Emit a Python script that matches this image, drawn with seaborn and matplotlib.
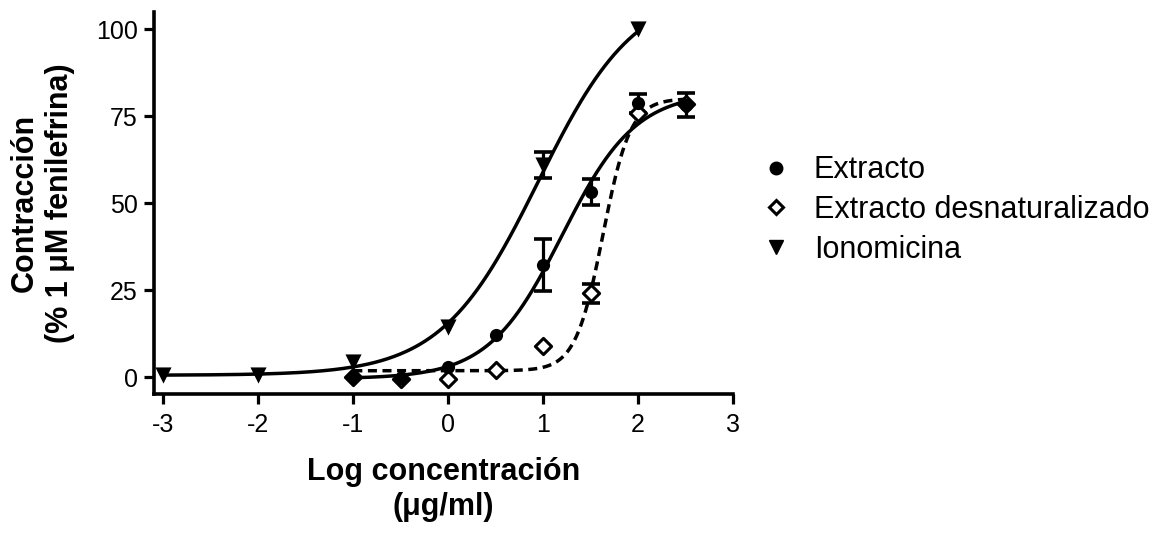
import numpy as np
import pandas as pd
import matplotlib
matplotlib.use("Agg")
import matplotlib.pyplot as plt
from matplotlib.lines import Line2D
import seaborn as sns

# Measured responses (mean and error) at each log concentration
log_conc_extracto = [-1.0, -0.5, 0.0, 0.5, 1.0, 1.5, 2.0, 2.5]
extracto = [0.0, -0.3, 2.9, 12.0, 32.2, 53.2, 78.6, 78.1]
extracto_err = [0.0, 0.0, 0.0, 0.0, 7.4, 3.8, 2.8, 3.4]

log_conc_desnat = [-1.0, -0.5, 0.0, 0.5, 1.0, 1.5, 2.0, 2.5]
desnat = [0.0, -0.5, -0.5, 1.9, 8.8, 24.0, 75.9, 78.5]
desnat_err = [0.0, 0.0, 0.0, 0.0, 0.0, 2.7, 0.0, 0.0]

log_conc_iono = [-3.0, -2.0, -1.0, 0.0, 1.0, 2.0]
iono = [0.5, 0.5, 4.3, 14.4, 60.9, 100.0]
iono_err = [0.0, 0.0, 0.0, 0.0, 3.8, 0.0]

# Four-parameter logistic fit parameters: bottom, top, logEC50, Hill slope
fit_extracto = (-0.5, 82.0, 1.2, 1.12)
fit_desnat = (1.8, 80.0, 1.63, 3.0)
fit_iono = (0.5, 112.0, 0.95, 0.85)

labels = ["Extracto", "Extracto desnaturalizado", "Ionomicina"]
x_ticks = [-3, -2, -1, 0, 1, 2, 3]
y_ticks = [0, 25, 50, 75, 100]


def logistic4(x, bottom, top, logec50, hill):
    return bottom + (top - bottom) / (1.0 + 10.0 ** ((logec50 - x) * hill))


sns.set_theme(style="ticks")
plt.rcParams["font.family"] = ["Liberation Sans", "DejaVu Sans"]
plt.rcParams["text.color"] = "black"
plt.rcParams["axes.labelcolor"] = "black"

fig = plt.figure(figsize=(11.7, 5.35), dpi=100)
ax = fig.add_axes([0.1316, 0.2628, 0.4949, 0.7155])

lw = 2.5
curves = []
for name, xs, params in [
    ("Extracto", log_conc_extracto, fit_extracto),
    ("Extracto desnaturalizado", log_conc_desnat, fit_desnat),
    ("Ionomicina", log_conc_iono, fit_iono),
]:
    xx = np.linspace(min(xs), max(xs), 300)
    curves.append(pd.DataFrame({"x": xx, "y": logistic4(xx, *params), "serie": name}))
curve_df = pd.concat(curves, ignore_index=True)

sns.lineplot(data=curve_df[curve_df.serie == "Extracto"], x="x", y="y",
             color="black", lw=lw, ax=ax, zorder=2, legend=False)
sns.lineplot(data=curve_df[curve_df.serie == "Ionomicina"], x="x", y="y",
             color="black", lw=lw, ax=ax, zorder=2, legend=False)
sns.lineplot(data=curve_df[curve_df.serie == "Extracto desnaturalizado"], x="x", y="y",
             color="black", lw=lw, ax=ax, zorder=2, legend=False,
             dashes=False, linestyle=(0, (2.6, 1.6)))

# Error bars (only where an error is present)
for xs, ys, es in [(log_conc_extracto, extracto, extracto_err),
                   (log_conc_desnat, desnat, desnat_err),
                   (log_conc_iono, iono, iono_err)]:
    xs = np.asarray(xs); ys = np.asarray(ys); es = np.asarray(es)
    m = es > 0
    ax.errorbar(xs[m], ys[m], yerr=es[m], fmt="none", ecolor="black",
                elinewidth=2.3, capsize=6.5, capthick=2.6, zorder=3)

# Markers
ax.scatter(log_conc_desnat, desnat, marker="D", s=68, facecolor="white",
           edgecolor="black", linewidth=2.2, zorder=4)
ax.scatter(log_conc_extracto, extracto, marker="o", s=90, color="black",
           linewidth=0, zorder=5)
ax.scatter(log_conc_iono, iono, marker="v", s=135, color="black",
           linewidth=0, zorder=6)

ax.set_xlim(-3.1, 3.0)
ax.set_ylim(-5, 105)
ax.set_xticks(x_ticks)
ax.set_xticklabels([str(t) for t in x_ticks])
ax.set_yticks(y_ticks)
ax.set_yticklabels([str(t) for t in y_ticks])
ax.tick_params(axis="both", direction="out", length=7.5, width=2.3,
               labelsize=18, colors="black")
ax.tick_params(axis="x", pad=6)
ax.tick_params(axis="y", pad=4)

for side in ["top", "right"]:
    ax.spines[side].set_visible(False)
for side in ["left", "bottom"]:
    ax.spines[side].set_linewidth(2.6)
    ax.spines[side].set_color("black")

ax.set_xlabel("Log concentración\n(μg/ml)", fontsize=22, fontweight="bold",
              labelpad=14, linespacing=1.25, color="black")
ax.set_ylabel("Contracción\n(% 1 μM fenilefrina)", fontsize=22, fontweight="bold",
              labelpad=15, linespacing=1.25, color="black")

handles = [
    Line2D([], [], marker="o", ls="none", color="black", ms=9),
    Line2D([], [], marker="D", ls="none", markerfacecolor="white",
           markeredgecolor="black", markeredgewidth=2.2, ms=7.5),
    Line2D([], [], marker="v", ls="none", color="black", ms=10),
]
leg = fig.legend(handles, labels, loc="center left", bbox_to_anchor=(0.627, 0.6075),
                 frameon=False, fontsize=22, handlelength=1.0, handletextpad=0.72,
                 labelspacing=0.32, borderpad=0.4)
for t in leg.get_texts():
    t.set_color("black")

fig.savefig("out.png", dpi=100, facecolor="white")
